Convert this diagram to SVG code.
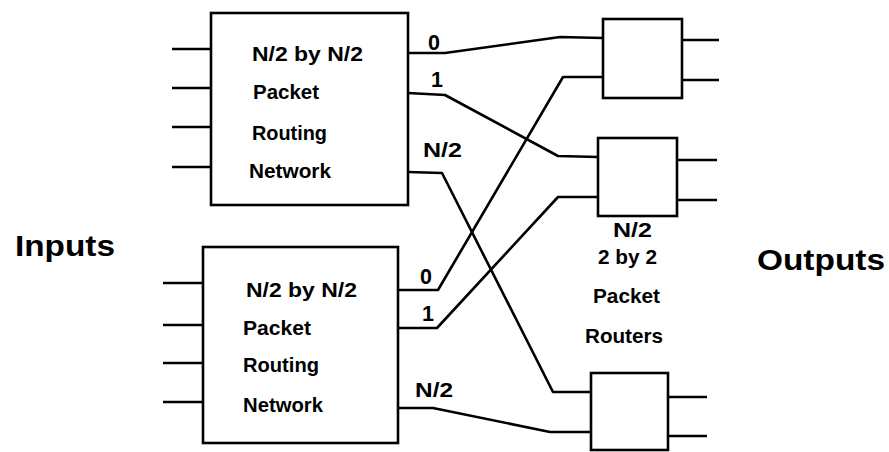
<svg xmlns="http://www.w3.org/2000/svg" width="889" height="452" viewBox="0 0 889 452">
<style>
.box{fill:#fff;stroke:#000;stroke-width:2.6}
.ln{fill:none;stroke:#000;stroke-width:2.6;stroke-linejoin:round}
.t{font-family:"Liberation Sans",Arial,sans-serif;font-weight:bold;font-size:20.5px;fill:#000}
.n{font-size:21.5px}
.big{font-family:"Liberation Sans",Arial,sans-serif;font-weight:bold;font-size:29px;fill:#000}
</style>
<rect width="889" height="452" fill="#fff"/>
<g id="connectors">
<path class="ln" d="M172,49H211M172,88H211M172,127H211M172,167H211"/>
<path class="ln" d="M163,283H203M163,325H203M163,363H203M163,402H203"/>
<polyline class="ln" points="408,53 445,53 560,37 603,38"/>
<polyline class="ln" points="408,93 445,95 558,156 598,157"/>
<polyline class="ln" points="408,172 442,173 553,392 591,392"/>
<polyline class="ln" points="398,290 438,290 563,77 603,77"/>
<polyline class="ln" points="398,328 437,328 558,197 598,197"/>
<polyline class="ln" points="398,408 433,408 550,432 591,432"/>
<path class="ln" d="M682,40H719M682,80H719M677,160H717M677,200H717M668,397H707M668,436H707"/>
</g>
<g id="net1">
<rect class="box" x="211" y="13" width="197" height="192"/>
<text class="t" x="252" y="61" textLength="111" lengthAdjust="spacingAndGlyphs">N/2 by N/2</text>
<text class="t" x="253" y="99" textLength="66" lengthAdjust="spacingAndGlyphs">Packet</text>
<text class="t" x="252" y="140" textLength="75" lengthAdjust="spacingAndGlyphs">Routing</text>
<text class="t" x="249" y="178" textLength="82" lengthAdjust="spacingAndGlyphs">Network</text>
</g>
<g id="net2">
<rect class="box" x="203" y="247" width="195" height="196"/>
<text class="t" x="246" y="297" textLength="111" lengthAdjust="spacingAndGlyphs">N/2 by N/2</text>
<text class="t" x="243" y="335" textLength="68" lengthAdjust="spacingAndGlyphs">Packet</text>
<text class="t" x="243" y="372" textLength="76" lengthAdjust="spacingAndGlyphs">Routing</text>
<text class="t" x="243" y="412" textLength="80" lengthAdjust="spacingAndGlyphs">Network</text>
</g>
<g id="labels-out">
<text class="t n" x="428" y="50">0</text>
<text class="t n" x="431" y="87">1</text>
<text class="t" x="423" y="157" textLength="39" lengthAdjust="spacingAndGlyphs">N/2</text>
<text class="t n" x="420" y="284">0</text>
<text class="t n" x="422" y="321">1</text>
<text class="t" x="415" y="397" textLength="38" lengthAdjust="spacingAndGlyphs">N/2</text>
</g>
<g id="router1"><rect class="box" x="603" y="19" width="79" height="79"/></g>
<g id="router2"><rect class="box" x="598" y="138" width="79" height="78"/></g>
<g id="router3"><rect class="box" x="591" y="373" width="77" height="77"/></g>
<g id="router-label">
<text class="t" x="613" y="237" textLength="39" lengthAdjust="spacingAndGlyphs">N/2</text>
<text class="t" x="598" y="264" textLength="59" lengthAdjust="spacingAndGlyphs">2 by 2</text>
<text class="t" x="593" y="303" textLength="67" lengthAdjust="spacingAndGlyphs">Packet</text>
<text class="t" x="585" y="343" textLength="78" lengthAdjust="spacingAndGlyphs">Routers</text>
</g>
<g id="inputs"><text class="big" x="15" y="256" textLength="100" lengthAdjust="spacingAndGlyphs">Inputs</text></g>
<g id="outputs"><text class="big" x="757" y="270" textLength="128" lengthAdjust="spacingAndGlyphs">Outputs</text></g>
</svg>
